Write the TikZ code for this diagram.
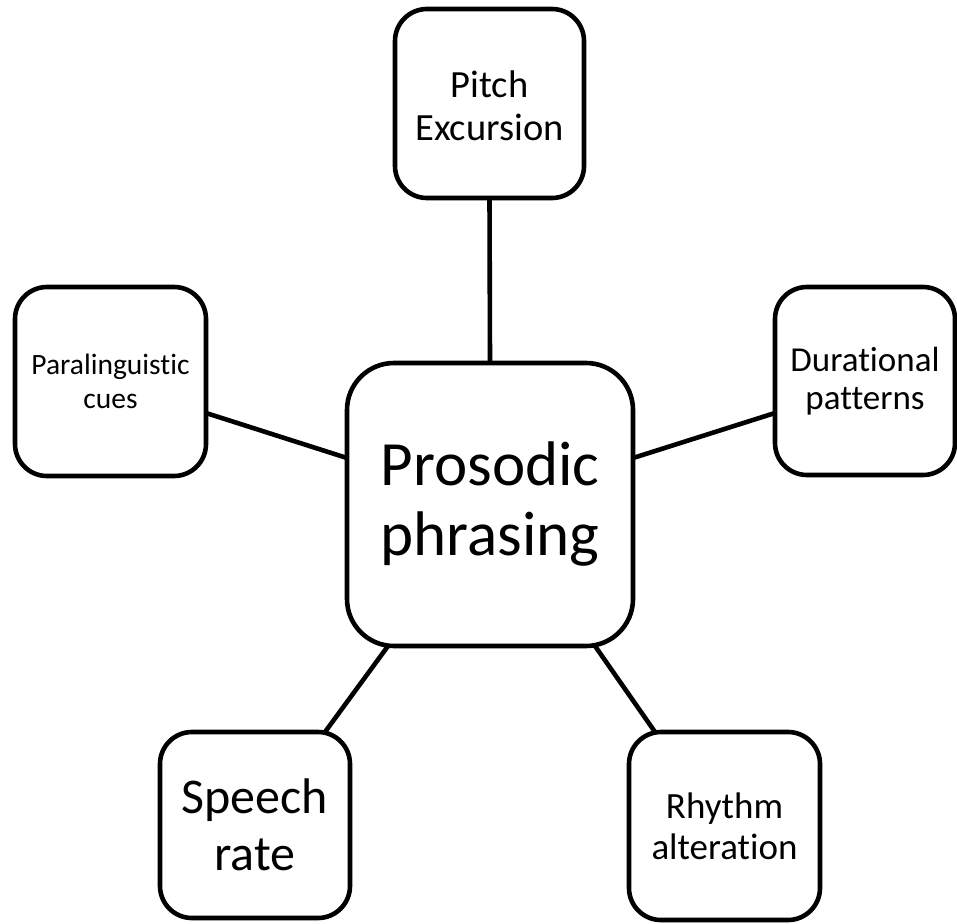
\documentclass[tikz,border=0pt]{standalone}
\usepackage{fontspec}
\setmainfont{Carlito}[Ligatures={NoCommon}]
\tikzset{
  box/.style={draw=black, line width=4.6pt, fill=white, rounded corners=#1, inner sep=0pt, outer sep=0pt, align=center},
  box/.default=32pt,
  link/.style={draw=black, line width=4.6pt}
}
\begin{document}
\begin{tikzpicture}[x=1pt,y=-1pt]
\useasboundingbox (0,0) rectangle (957,923);
\node[box=47pt, minimum width=286pt, minimum height=283pt, font={\fontsize{63}{70}\selectfont}] (ctr) at (490,504.5)
  {Prosodic\\phrasing};
\node[box, minimum width=189pt, minimum height=189pt, font={\fontsize{38.5}{43}\selectfont}] (pitch) at (489.5,103.5)
  {\begin{tabular}{@{}c@{}}\rule{0pt}{44pt}Pitch\\Excursion\end{tabular}};
\node[box, minimum width=191pt, minimum height=189pt, font={\fontsize{29.5}{34}\selectfont}] (para) at (110.5,381.5)
  {Paralinguistic\\cues};
\node[box, minimum width=180pt, minimum height=188pt, font={\fontsize{35}{38}\selectfont}] (dur) at (865,381)
  {Durational\\patterns};
\node[box, minimum width=190pt, minimum height=186pt, font={\fontsize{50}{57}\selectfont}] (speech) at (255,825)
  {Speech\\rate};
\node[box, minimum width=191pt, minimum height=188pt, font={\fontsize{37}{41}\selectfont}] (rhythm) at (724.5,826)
  {Rhythm\\alteration};
\draw[link] (pitch.south) -- (ctr.north);
\draw[link] ([yshift=-31.5pt]para.east) -- ([yshift=46.5pt]ctr.west);
\draw[link] ([yshift=-32pt]dur.west) -- ([yshift=46.5pt]ctr.east);
\draw[link] ([xshift=70pt]speech.north) -- ([xshift=-102pt]ctr.south);
\draw[link] ([xshift=-69.5pt]rhythm.north) -- ([xshift=105pt]ctr.south);
\end{tikzpicture}
\end{document}
